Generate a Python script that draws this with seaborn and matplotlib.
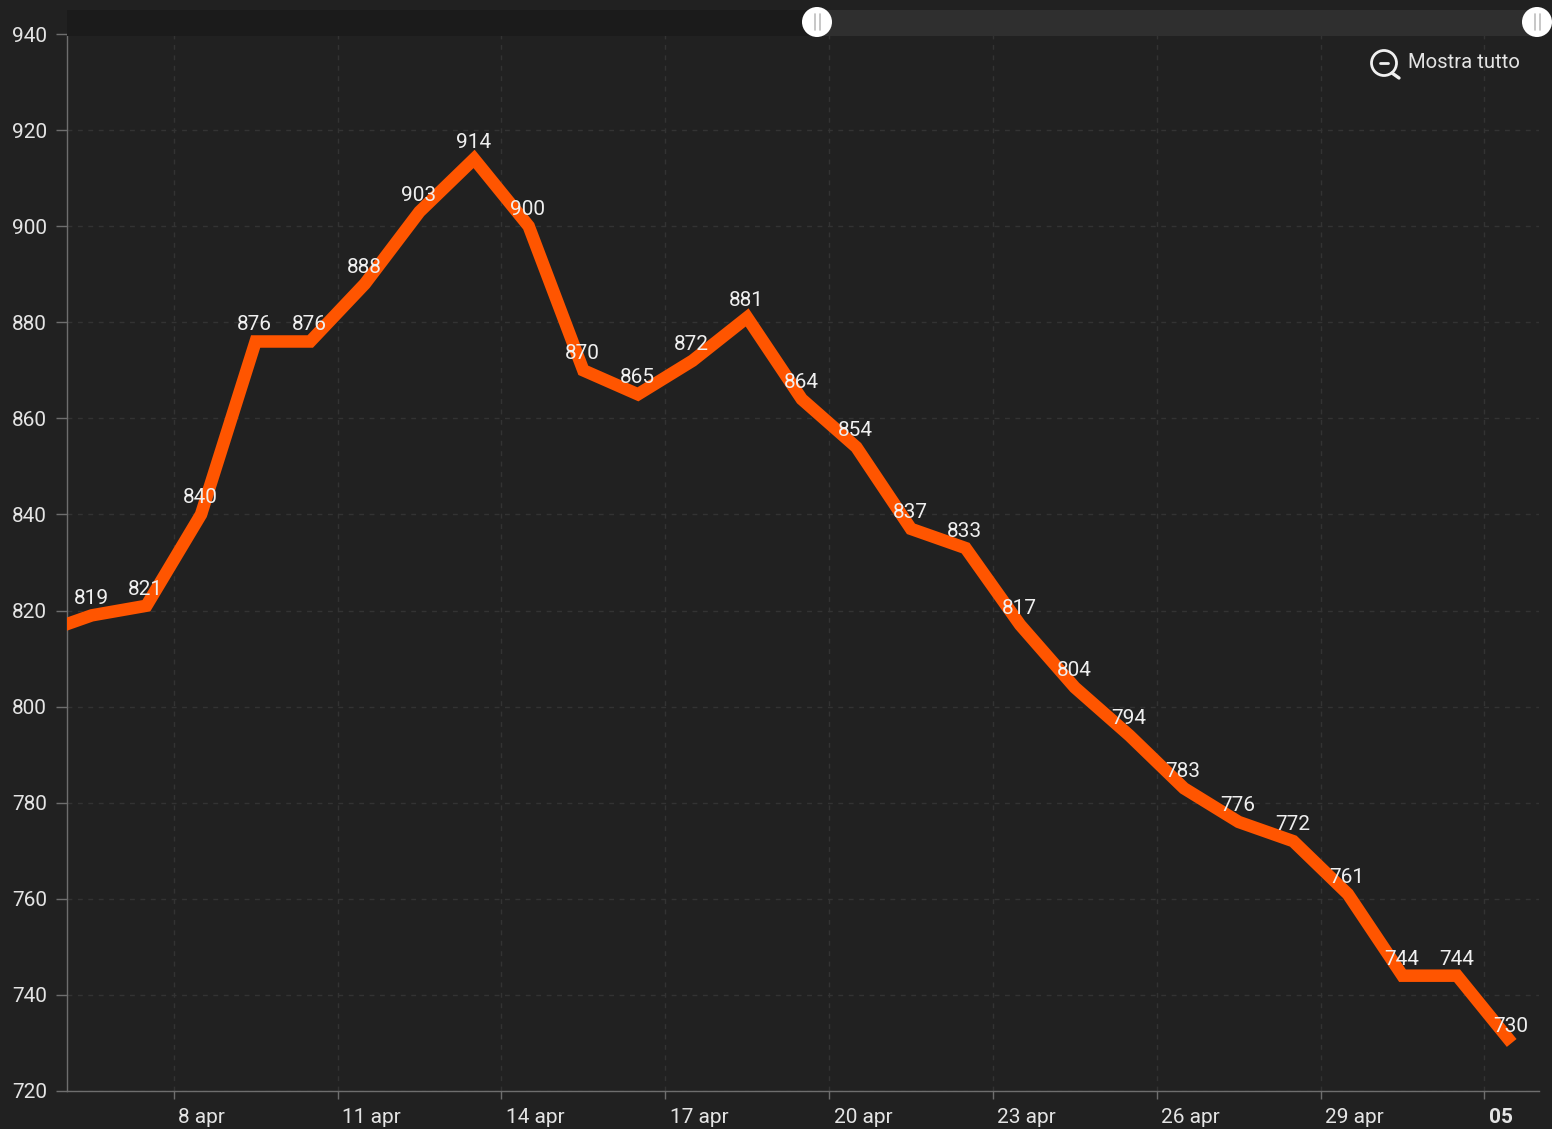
import matplotlib
matplotlib.use("Agg")
import matplotlib.pyplot as plt
import seaborn as sns
import pandas as pd
from matplotlib.patches import Rectangle, Circle
from matplotlib.lines import Line2D

days = list(range(5, 33))
values = [815, 819, 821, 840, 876, 876, 888, 903, 914, 900, 870, 865, 872, 881, 864,
          854, 837, 833, 817, 804, 794, 783, 776, 772, 761, 744, 744, 730]
labelled_from = 1
tick_days = [8, 11, 14, 17, 20, 23, 26, 29, 32]
tick_labels = ["8 apr", "11 apr", "14 apr", "17 apr", "20 apr", "23 apr", "26 apr", "29 apr", "05"]
y_ticks = list(range(720, 941, 20))

BG = "#212121"
TXT = "#e4e4e4"
W, H = 1552, 1129
L, R, T, B = 67, 1539, 34, 1091

sns.set_theme(style="dark", rc={"axes.facecolor": BG, "figure.facecolor": BG})
plt.rcParams["font.family"] = ["Roboto", "DejaVu Sans"]

fig = plt.figure(figsize=(W / 100, H / 100), dpi=100, facecolor=BG)
ax = fig.add_axes([L / W, 1 - B / H, (R - L) / W, (B - T) / H], facecolor=BG)

df = pd.DataFrame({"day": days, "value": values})
sns.lineplot(data=df, x="day", y="value", ax=ax, color="#ff5500", linewidth=9.0,
             solid_joinstyle="miter", solid_capstyle="butt", zorder=3, errorbar=None)

ax.set_xlim(5.546, 32.5)
ax.set_ylim(720, 940)
ax.set_xlabel("")
ax.set_ylabel("")

for s in ("top", "right"):
    ax.spines[s].set_visible(False)
for s in ("left", "bottom"):
    ax.spines[s].set_color("#6e6e6e")
    ax.spines[s].set_linewidth(1.0)

ax.set_yticks(y_ticks)
ax.set_yticklabels([str(v) for v in y_ticks], fontsize=15, color=TXT)
ax.tick_params(axis="y", length=8, width=1, color="#6e6e6e", pad=6.5, left=True)

ax.set_xticks([d - 0.5 for d in tick_days])
ax.set_xticklabels(tick_labels, fontsize=15, color=TXT, ha="left")
ax.tick_params(axis="x", length=6, width=1, color="#6e6e6e", pad=6.5, bottom=True)
for lab, name in zip(ax.get_xticklabels(), tick_labels):
    lab.set_transform(lab.get_transform() + matplotlib.transforms.ScaledTranslation(4.5 / 100, 0, fig.dpi_scale_trans))
    if name == "05":
        lab.set_fontweight("bold")

ax.grid(True, color="#333333", linestyle=(0, (3.5, 4)), linewidth=1.0, zorder=0)

for d, v in list(zip(days, values))[labelled_from:]:
    ax.annotate(str(v), (d, v), xytext=(-0.6, 12.0), textcoords="offset points",
                ha="center", va="center", color="#efefef", fontsize=15, zorder=5,
                annotation_clip=False)

# Range slider and zoom control
def px(x, y):
    return x / W, 1 - y / H

x0, y1 = px(67, 36)
fig.add_artist(Rectangle((x0, y1), (817 - 67) / W, 26 / H, transform=fig.transFigure,
                         facecolor="#1b1b1b", edgecolor="none", zorder=6))
x0, y1 = px(817, 36)
fig.add_artist(Rectangle((x0, y1), (1538 - 817) / W, 26 / H, transform=fig.transFigure,
                         facecolor="#2f2f2f", edgecolor="none", zorder=6))

overlay = fig.add_axes([0, 0, 1, 1], facecolor="none", zorder=10)
overlay.set_xlim(0, W)
overlay.set_ylim(H, 0)
overlay.axis("off")
for cx in (817, 1537):
    overlay.add_patch(Circle((cx, 22), 15, facecolor="#ffffff", edgecolor="none"))
    for dx in (-2.5, 2.5):
        overlay.add_line(Line2D([cx + dx, cx + dx], [14, 30], color="#bdbdbd", lw=1.2))
overlay.add_patch(Circle((1384, 63), 12.5, facecolor="none", edgecolor="#f0f0f0", lw=2))
overlay.add_line(Line2D([1380, 1388], [63, 63], color="#f0f0f0", lw=2))
overlay.add_line(Line2D([1392, 1399], [73, 78], color="#f0f0f0", lw=2.4))
overlay.text(1408, 63, "Mostra tutto", color=TXT, fontsize=14.6, va="center", ha="left")

fig.savefig("out.png", dpi=100, facecolor=BG)
